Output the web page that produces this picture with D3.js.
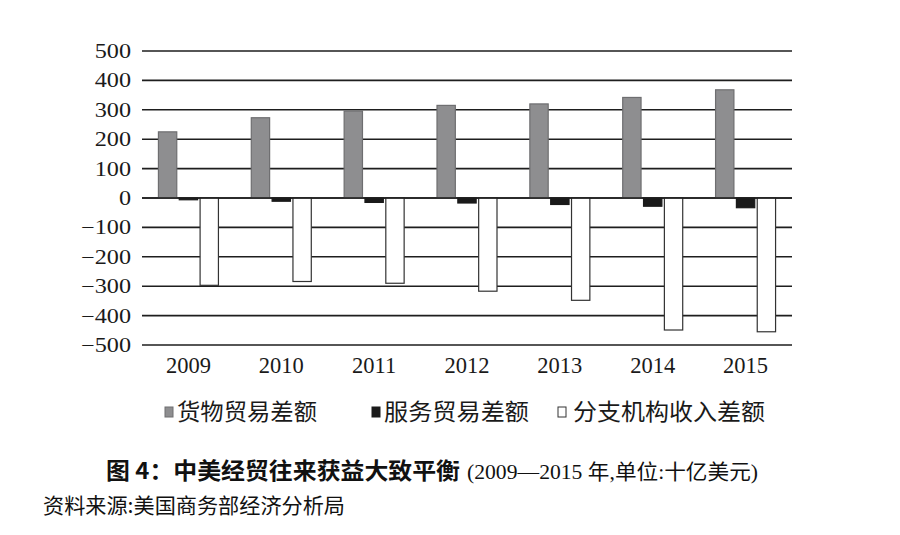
<!DOCTYPE html>
<html><head><meta charset="utf-8">
<script src="https://cdn.jsdelivr.net/npm/d3@7/dist/d3.min.js"></script>
<style>
body{margin:0;background:#fff;}
svg{display:block;}
</style></head>
<body>
<svg id="chart" width="900" height="535"></svg>
<script>
const years = ["2009","2010","2011","2012","2013","2014","2015"];
const goods = [225, 273, 296, 315, 320, 342, 368];
const services = [-6, -11, -15, -17, -22, -28, -33];
const affiliates = [-297, -284, -290, -317, -348, -449, -455];
const seriesNames = ["货物贸易差额","服务贸易差额","分支机构收入差额"];
const yTicks = [500,400,300,200,100,0,-100,-200,-300,-400,-500];
const titleBold = "图 4：中美经贸往来获益大致平衡";
const titleRest = "(2009—2015 年,单位:十亿美元)";
const sourceText = "资料来源:美国商务部经济分析局";

const svg = d3.select("#chart");
const L = 142, R = 792, T = 51, B = 345;
const x = d3.scaleBand().domain(years).range([L, R]).paddingInner(0).paddingOuter(0);
const y = d3.scaleLinear().domain([-500, 500]).range([B, T]);
const sub = d3.scaleBand().domain([0,1,2]).range([-30, 30]).paddingInner(0.12);

const serif = "'Liberation Serif','DejaVu Serif',serif";
const cjk = "'Noto Sans CJK SC','Noto Sans',sans-serif";
const serifCjk = "'Liberation Serif','Noto Sans CJK SC',serif";

// gridlines
svg.append("g").selectAll("line").data(yTicks).join("line")
  .attr("x1", L).attr("x2", R)
  .attr("y1", d => y(d)).attr("y2", d => y(d))
  .attr("stroke", "#1e1e1e").attr("stroke-width", 1.6);

// y axis labels
const yAxis = d3.axisLeft(y).tickValues(yTicks).tickSize(0).tickPadding(11)
  .tickFormat(d => d < 0 ? "−" + Math.abs(d) : String(d));
const ya = svg.append("g").attr("transform", `translate(${L},0)`).call(yAxis);
ya.select(".domain").remove();
ya.selectAll("text").attr("font-family", serif).attr("font-size", 20.5).attr("fill", "#1a1a1a")
  .each(function(){
    const w = this.getComputedTextLength();
    d3.select(this).attr("textLength", w * 1.18).attr("lengthAdjust", "spacingAndGlyphs");
  });

// x axis labels
const xAxis = d3.axisBottom(x).tickSize(0).tickPadding(12);
const xa = svg.append("g").attr("transform", `translate(0,${B})`).call(xAxis);
xa.select(".domain").remove();
xa.selectAll("text").attr("font-family", serif).attr("font-size", 22.5).attr("fill", "#1a1a1a");

// bars
const styles = [
  {fill:"#8e8e90", stroke:"#6e6e70"},
  {fill:"#1a1a1a", stroke:"#1a1a1a"},
  {fill:"#ffffff", stroke:"#333333"}
];
const allSeries = [goods, services, affiliates];
allSeries.forEach((vals, si) => {
  svg.append("g").selectAll("rect").data(vals.map((v,i)=>({v, yr: years[i]}))).join("rect")
    .attr("x", d => x(d.yr) + x.bandwidth()/2 + sub(si))
    .attr("width", sub.bandwidth())
    .attr("y", d => y(Math.max(0, d.v)))
    .attr("height", d => Math.abs(y(d.v) - y(0)))
    .attr("fill", styles[si].fill)
    .attr("stroke", styles[si].stroke)
    .attr("stroke-width", 1.2);
});
// redraw zero line on top
svg.append("line").attr("x1", L).attr("x2", R).attr("y1", y(0)).attr("y2", y(0))
  .attr("stroke", "#1e1e1e").attr("stroke-width", 1.6);

// legend
const legX = [165, 372, 558];
const legW = [140, 145, 192];
const lg = svg.append("g");
seriesNames.forEach((n, i) => {
  lg.append("rect").attr("x", legX[i]).attr("y", 407).attr("width", 8).attr("height", 10)
    .attr("fill", styles[i].fill).attr("stroke", i===2 ? "#333" : styles[i].stroke).attr("stroke-width", 1);
  lg.append("text").attr("x", legX[i] + (i===2 ? 15 : 12)).attr("y", 420).text(n)
    .attr("font-family", cjk).attr("font-size", 23).attr("fill", "#1a1a1a")
    .attr("textLength", legW[i]).attr("lengthAdjust", "spacingAndGlyphs");
});

// title
const t = svg.append("text").attr("x", 106).attr("y", 479).attr("fill", "#111");
t.append("tspan").text(titleBold).attr("font-family", cjk).attr("font-weight", "bold").attr("font-size", 23)
  .attr("textLength", 354).attr("lengthAdjust", "spacingAndGlyphs");
t.append("tspan").text(titleRest).attr("x", 467).attr("font-family", serifCjk).attr("font-size", 21)
  .attr("textLength", 291).attr("lengthAdjust", "spacingAndGlyphs");

svg.append("text").attr("x", 43).attr("y", 513).text(sourceText)
  .attr("font-family", cjk).attr("font-size", 21).attr("fill", "#111")
  .attr("textLength", 302).attr("lengthAdjust", "spacingAndGlyphs");
</script>
</body></html>
